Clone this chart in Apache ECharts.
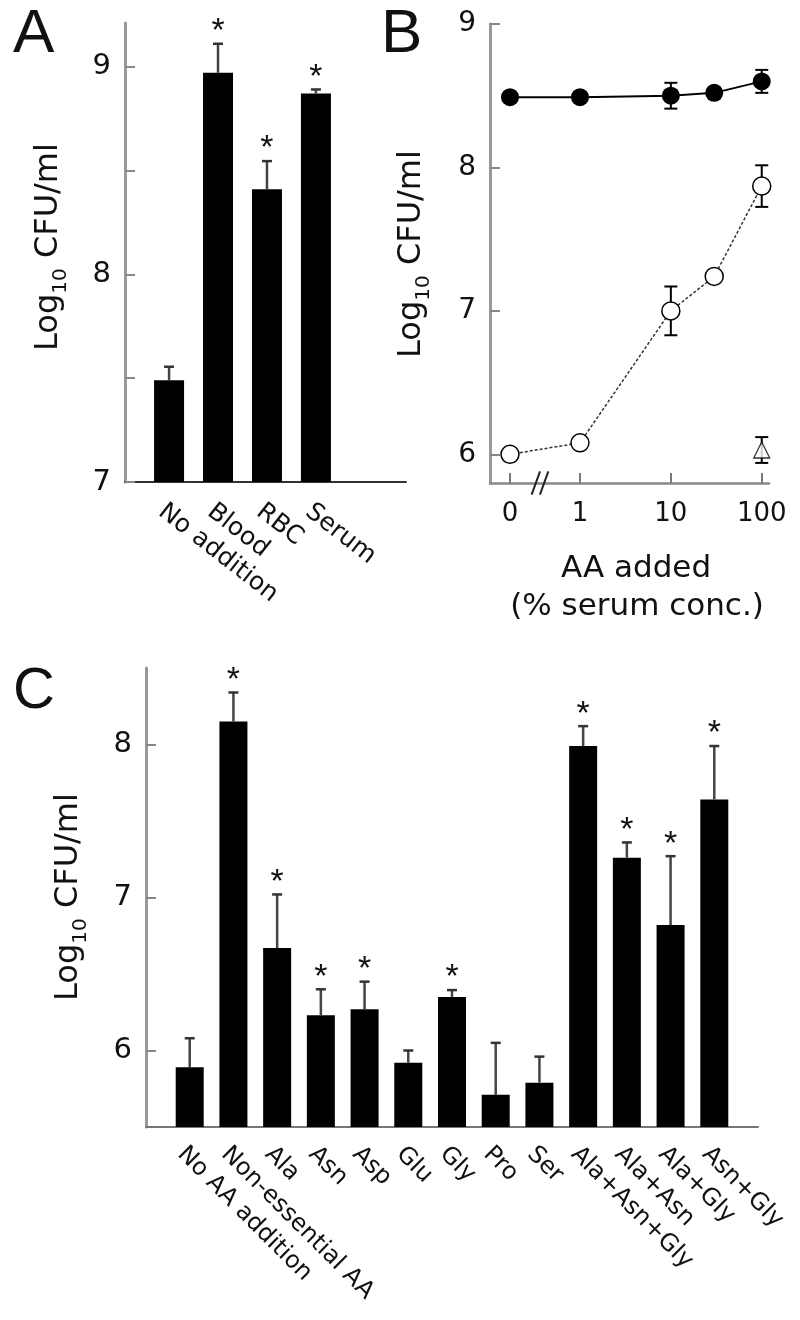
<!DOCTYPE html>
<html><head><meta charset="utf-8">
<script src="https://cdn.jsdelivr.net/npm/echarts@6/dist/echarts.min.js"></script>
<style>html,body{margin:0;padding:0;background:#fff}#c{width:800px;height:1320px}</style>
</head><body><div id="c"></div>
<script>
// ---------- Panel A ----------
const catsA = ['No addition', 'Blood', 'RBC', 'Serum'];
const valsA = [7.49, 8.97, 8.41, 8.87];
const errA  = [0.065, 0.14, 0.135, 0.02];
const sigA  = [0, 1, 1, 1];
const yTicksA  = [7, 7.5, 8, 8.5, 9];
const yLabelsA = [7, 8, 9];

// ---------- Panel B ----------
const concB      = [0, 1, 10, 30, 100];
const closedB    = [8.49, 8.49, 8.50, 8.52, 8.60];
const closedErrB = [0, 0, 0.09, 0.03, 0.08];
const openB      = [6.00, 6.08, 7.00, 7.24, 7.87];
const openErrB   = [0, 0, 0.17, 0, 0.145];
const triConcB   = [100];
const triB       = [6.03];
const triErrB    = [0.09];
const xTickConcB   = [0, 1, 10, 100];
const xTickLabelsB = ['0', '1', '10', '100'];
const yTicksB      = [6, 7, 8, 9];

// ---------- Panel C ----------
const catsC = ['No AA addition', 'Non-essential AA', 'Ala', 'Asn', 'Asp', 'Glu', 'Gly', 'Pro', 'Ser',
               'Ala+Asn+Gly', 'Ala+Asn', 'Ala+Gly', 'Asn+Gly'];
const valsC = [5.89, 8.15, 6.67, 6.23, 6.27, 5.92, 6.35, 5.71, 5.79, 7.99, 7.26, 6.82, 7.64];
const errC  = [0.19, 0.19, 0.35, 0.17, 0.18, 0.08, 0.045, 0.34, 0.17, 0.13, 0.10, 0.45, 0.35];
const sigC  = [0, 1, 1, 1, 1, 0, 1, 0, 0, 1, 1, 1, 1];
const yTicksC = [6, 7, 8];

// axis transform for panel B (log10 with broken zero)
const ZERO_POS = -0.77;
const BREAK_POS = -0.44;
function xPosB(c) { return c > 0 ? Math.log10(c) : ZERO_POS; }

const FONT = '"DejaVu Sans", sans-serif';
const TXT = '#111';

function barErr(params, api) {
  const x = api.value(0), v = api.value(1), e = api.value(2), s = api.value(3);
  const base = api.coord([x, v]);
  const top = api.coord([x, v + e]);
  const ch = [];
  if (e > 0) {
    ch.push({type: 'line', shape: {x1: base[0], y1: base[1], x2: top[0], y2: top[1]}, style: {stroke: '#444', lineWidth: 2.5}});
    ch.push({type: 'line', shape: {x1: top[0] - 5, y1: top[1], x2: top[0] + 5, y2: top[1]}, style: {stroke: '#333', lineWidth: 2.5}});
  }
  if (s) {
    ch.push({type: 'text', x: top[0], y: top[1] - 12,
      style: {text: '*', font: '34px "Liberation Sans", Arial, sans-serif', align: 'center', verticalAlign: 'middle', fill: TXT}});
  }
  return {type: 'group', children: ch};
}
function ptErr(params, api) {
  const x = api.value(0), v = api.value(1), e = api.value(2);
  if (!(e > 0)) return {type: 'group', children: []};
  const lo = api.coord([x, v - e]), hi = api.coord([x, v + e]);
  const w = 6.5;
  const st = {stroke: '#000', lineWidth: 2};
  return {type: 'group', children: [
    {type: 'line', shape: {x1: lo[0], y1: lo[1], x2: hi[0], y2: hi[1]}, style: st},
    {type: 'line', shape: {x1: hi[0] - w, y1: hi[1], x2: hi[0] + w, y2: hi[1]}, style: st},
    {type: 'line', shape: {x1: lo[0] - w, y1: lo[1], x2: lo[0] + w, y2: lo[1]}, style: st}
  ]};
}
function breakMark(params, api) {
  const p = api.coord([api.value(0), api.value(1)]);
  const dx = 4.2, dy = 11.7, gap = 8.3;
  return {type: 'group', children: [-gap / 2, gap / 2].map(o => ({
    type: 'line', shape: {x1: p[0] + o - dx, y1: p[1] + dy, x2: p[0] + o + dx, y2: p[1] - dy},
    style: {stroke: '#222', lineWidth: 2}}))};
}

function yAxisCfg(grid, min, max, ticks, labels, fs) {
  return {
    gridIndex: grid, type: 'value', min: min, max: max,
    axisLine: {show: true, onZero: false, lineStyle: {color: '#999', width: 3}},
    axisTick: {show: true, inside: true, length: 10, customValues: ticks, lineStyle: {color: '#888', width: 2}},
    axisLabel: {customValues: labels, fontSize: fs, fontFamily: FONT, color: TXT, margin: 14},
    splitLine: {show: false}
  };
}

const yTitle = (x, y) => ({
  type: 'text', x: x, y: y, rotation: Math.PI / 2,
  style: {
    text: '{a|Log}{s|10}{a| CFU/ml}', align: 'center', verticalAlign: 'middle', fill: TXT,
    rich: {
      a: {fontSize: 32, fontFamily: FONT, lineHeight: 44, verticalAlign: 'middle', fill: TXT},
      s: {fontSize: 20, fontFamily: FONT, lineHeight: 20, verticalAlign: 'bottom', fill: TXT}
    }
  }
});
const letter = (t, x, y, fs) => ({
  type: 'text', x: x, y: y,
  style: {text: t, font: fs + 'px "Liberation Sans", Arial, sans-serif', align: 'left', verticalAlign: 'middle', fill: '#111'}
});

const option = {
  animation: false,
  backgroundColor: '#fff',
  grid: [
    {left: 125, top: 23, width: 281, height: 459},
    {left: 490, top: 24, width: 279, height: 459},
    {left: 146, top: 668, width: 612, height: 459}
  ],
  xAxis: [
    {gridIndex: 0, type: 'value', min: -0.9, max: 4.84,
     axisLine: {show: true, onZero: false, lineStyle: {color: '#333', width: 2}},
     axisTick: {show: false}, splitLine: {show: false},
     axisLabel: {customValues: catsA.map((c, i) => i), formatter: v => catsA[Math.round(v)] || '',
       rotate: -38, verticalAlign: 'top', margin: 17, fontSize: 25, fontFamily: FONT, color: TXT}},
    {gridIndex: 1, type: 'value', min: -0.99, max: 2.08,
     axisLine: {show: true, onZero: false, lineStyle: {color: '#888', width: 2.5}},
     axisTick: {show: true, inside: true, length: 10, customValues: xTickConcB.map(xPosB), lineStyle: {color: '#777', width: 2}},
     splitLine: {show: false},
     axisLabel: {customValues: xTickConcB.map(xPosB),
       formatter: v => { const i = xTickConcB.findIndex(c => Math.abs(xPosB(c) - v) < 1e-6); return i >= 0 ? xTickLabelsB[i] : ''; },
       fontSize: 26, fontFamily: FONT, color: TXT, margin: 18}},
    {gridIndex: 2, type: 'value', min: -1, max: 13,
     axisLine: {show: true, onZero: false, lineStyle: {color: '#777', width: 2}},
     axisTick: {show: false}, splitLine: {show: false},
     axisLabel: {customValues: catsC.map((c, i) => i), formatter: v => catsC[Math.round(v)] || '',
       rotate: -45, verticalAlign: 'top', margin: 15, fontSize: 24, fontFamily: FONT, color: TXT}}
  ],
  yAxis: [
    yAxisCfg(0, 7, 9.21, yTicksA, yLabelsA, 29),
    yAxisCfg(1, 5.8, 9, yTicksB, yTicksB, 28),
    yAxisCfg(2, 5.5, 8.5, yTicksC, yTicksC, 29)
  ],
  series: [
    {type: 'bar', xAxisIndex: 0, yAxisIndex: 0, data: valsA.map((v, i) => [i, v]), barWidth: 30,
     itemStyle: {color: '#000'}, z: 2},
    {type: 'custom', xAxisIndex: 0, yAxisIndex: 0, data: valsA.map((v, i) => [i, v, errA[i], sigA[i]]),
     renderItem: barErr, z: 3},

    {type: 'custom', xAxisIndex: 1, yAxisIndex: 1, data: concB.map((c, i) => [xPosB(c), closedB[i], closedErrB[i]]),
     renderItem: ptErr, z: 2},
    {type: 'custom', xAxisIndex: 1, yAxisIndex: 1, data: concB.map((c, i) => [xPosB(c), openB[i], openErrB[i]]),
     renderItem: ptErr, z: 2},
    {type: 'custom', xAxisIndex: 1, yAxisIndex: 1, data: triConcB.map((c, i) => [xPosB(c), triB[i], triErrB[i]]),
     renderItem: ptErr, z: 2},
    {type: 'line', xAxisIndex: 1, yAxisIndex: 1, data: concB.map((c, i) => [xPosB(c), closedB[i]]),
     symbol: 'circle', symbolSize: 18, itemStyle: {color: '#000'}, lineStyle: {color: '#000', width: 2}, z: 4},
    {type: 'line', xAxisIndex: 1, yAxisIndex: 1, data: concB.map((c, i) => [xPosB(c), openB[i]]),
     symbol: 'circle', symbolSize: 18, itemStyle: {color: '#fff', borderColor: '#000', borderWidth: 1.5},
     lineStyle: {color: '#333', width: 1.5, type: [3, 2]}, z: 4},
    {type: 'scatter', xAxisIndex: 1, yAxisIndex: 1, data: triConcB.map((c, i) => [xPosB(c), triB[i]]),
     symbol: 'triangle', symbolSize: 16, itemStyle: {color: '#fff', borderColor: '#000', borderWidth: 1.3}, z: 4},
    {type: 'custom', xAxisIndex: 1, yAxisIndex: 1, data: [[BREAK_POS, 5.8]], renderItem: breakMark, z: 5},

    {type: 'bar', xAxisIndex: 2, yAxisIndex: 2, data: valsC.map((v, i) => [i, v]), barWidth: 28,
     itemStyle: {color: '#000'}, z: 2},
    {type: 'custom', xAxisIndex: 2, yAxisIndex: 2, data: valsC.map((v, i) => [i, v, errC[i], sigC[i]]),
     renderItem: barErr, z: 3}
  ],
  graphic: [
    letter('A', 13, 35, 62),
    letter('B', 381, 35, 62),
    letter('C', 13, 692, 58),
    yTitle(49, 247),
    yTitle(412, 254),
    yTitle(69, 897),
    {type: 'text', x: 636, y: 569, style: {text: 'AA added', font: '31px ' + FONT, align: 'center', verticalAlign: 'middle', fill: TXT}},
    {type: 'text', x: 637, y: 607, style: {text: '(% serum conc.)', font: '31px ' + FONT, align: 'center', verticalAlign: 'middle', fill: TXT}}
  ]
};

const chart = echarts.init(document.getElementById('c'), null, {renderer: 'canvas'});
chart.setOption(option);
</script>
</body></html>
